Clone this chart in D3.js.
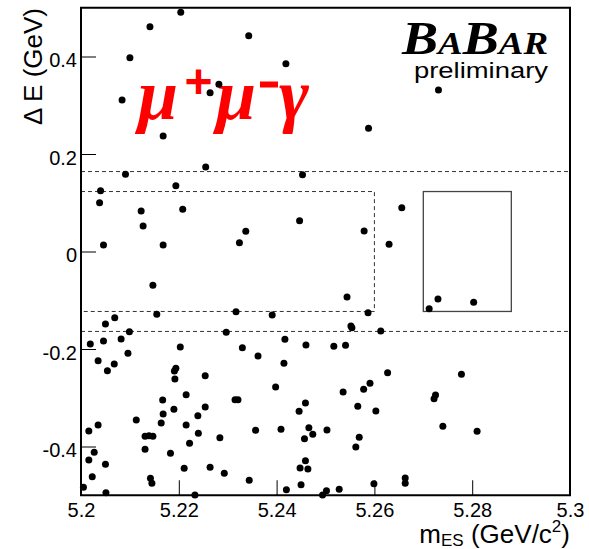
<!DOCTYPE html>
<html>
<head>
<meta charset="utf-8">
<script src="https://cdn.jsdelivr.net/npm/d3@7"></script>
<style>
body { margin: 0; background: #fff; }
</style>
</head>
<body>
<script>
// candidate events: beam-energy substituted mass (GeV/c^2) and Delta E (GeV)
var mES = [
  5.2204, 5.2141, 5.2343, 5.2100, 5.2419, 5.2282, 5.2264, 5.2084, 5.2168, 5.2255,
  5.2091, 5.2453, 5.2040, 5.2194, 5.2038, 5.2123, 5.2208, 5.2127, 5.2447, 5.2337,
  5.2046, 5.2168, 5.2324, 5.2731, 5.2588, 5.2656, 5.2579, 5.2630, 5.2147, 5.2155,
  5.2317, 5.2391, 5.2069, 5.2050, 5.2099, 5.2297, 5.2019, 5.2046, 5.2082, 5.2203,
  5.2330, 5.2417, 5.2460, 5.2035, 5.2068, 5.2054, 5.2096, 5.2362, 5.2415, 5.2194,
  5.2191, 5.2254, 5.2192, 5.2398, 5.2215, 5.2167, 5.2315, 5.2321, 5.2459, 5.2168,
  5.2190, 5.2254, 5.2446, 5.2239, 5.2113, 5.2164, 5.2215, 5.2035, 5.2016, 5.2357,
  5.2409, 5.2466, 5.2503, 5.2474, 5.2240, 5.2131, 5.2139, 5.2147, 5.2457, 5.2284,
  5.2222, 5.2131, 5.2027, 5.2016, 5.2183, 5.2050, 5.2459, 5.2211, 5.2264, 5.2448,
  5.2464, 5.2293, 5.2023, 5.2142, 5.2145, 5.2344, 5.2450, 5.2005, 5.2051, 5.2233,
  5.2420, 5.2494, 5.2502, 5.2544, 5.2587, 5.2712, 5.2730, 5.2803, 5.2552, 5.2554,
  5.2613, 5.2517, 5.2541, 5.2627, 5.2778, 5.2591, 5.2578, 5.2536, 5.2725, 5.2722,
  5.2566, 5.2603, 5.2740, 5.2810, 5.2569, 5.2562, 5.2599, 5.2663, 5.2663, 5.2528
];
var deltaE = [
   0.4907,  0.4611,  0.4427,  0.3975,  0.3852,  0.3430,  0.3257,  0.3108,  0.2369,  0.1733,
   0.1584,  0.1575,  0.1247,  0.1350,  0.1001,  0.0831,  0.0866,  0.0523,  0.0632,  0.0414,
   0.0133,  0.0133,  0.0181,  0.3313,  0.2527,  0.0898,  0.0421,  0.0148, -0.0693, -0.1288,
  -0.1235, -0.1303, -0.1358, -0.1487, -0.1645, -0.1657, -0.1897, -0.1836, -0.1795, -0.1959,
  -0.1973, -0.1801, -0.1918, -0.2240, -0.2308, -0.2445, -0.2088, -0.2144, -0.2293, -0.2396,
  -0.2451, -0.2548, -0.2615, -0.2779, -0.2937, -0.3046, -0.3040, -0.3040, -0.3108, -0.3333,
  -0.3237, -0.3190, -0.3278, -0.3368, -0.3456, -0.3518, -0.3559, -0.3559, -0.3682, -0.3668,
  -0.3647, -0.3614, -0.3662, -0.3750, -0.3729, -0.3791, -0.3778, -0.3791, -0.3840, -0.3819,
  -0.3934, -0.4057, -0.4119, -0.4277, -0.4139, -0.4365, -0.4291, -0.4447, -0.4427, -0.4441,
  -0.4462, -0.4550, -0.4619, -0.4652, -0.4755, -0.4693, -0.4784, -0.4837, -0.4948, -0.4995,
  -0.4886, -0.4995, -0.4907, -0.0933, -0.1255, -0.1173, -0.0974, -0.1042, -0.1528, -0.1563,
  -0.1631, -0.1945, -0.1924, -0.2486, -0.2519, -0.2704, -0.2827, -0.2882, -0.2944, -0.3019,
  -0.3175, -0.3272, -0.3586, -0.3688, -0.3811, -0.4010, -0.4763, -0.4646, -0.4755, -0.4878
];

var xTicks = [5.2, 5.22, 5.24, 5.26, 5.28, 5.3];
var xTickLabels = ["5.2", "5.22", "5.24", "5.26", "5.28", "5.3"];
var yTicks = [-0.4, -0.2, 0, 0.2, 0.4];
var yTickLabels = ["-0.4", "-0.2", "0", "0.2", "0.4"];

// region bounds
var bandDE = [-0.164, 0.164];               // Delta E band (dashed, full width)
var fitBox = [5.2, 5.26, -0.123, 0.123];    // mES lo, mES hi, dE lo, dE hi (dashed)
var signalBox = [5.27, 5.288, -0.123, 0.123];

var width = 589, height = 549;
var margin = {left: 81, right: 19, top: 7.75, bottom: 53.75};

var svg = d3.select("body").append("svg")
    .attr("width", width)
    .attr("height", height)
    .style("font-family", "'Liberation Sans', Arial, sans-serif");

var x = d3.scaleLinear().domain([5.2, 5.3]).range([margin.left, width - margin.right]);
var y = d3.scaleLinear().domain([-0.5, 0.5]).range([height - margin.bottom, margin.top]);

// dashed delta E band
svg.selectAll("line.band")
    .data(bandDE)
    .enter().append("line")
    .attr("class", "band")
    .attr("x1", x(5.2)).attr("x2", x(5.3))
    .attr("y1", function(d){ return y(d); })
    .attr("y2", function(d){ return y(d); })
    .attr("stroke", "#333")
    .attr("stroke-width", 1)
    .attr("stroke-dasharray", "4,3");

// dashed fit box (open on the left, that side is the axis)
var fb = d3.path();
fb.moveTo(x(fitBox[0]), y(fitBox[3]));
fb.lineTo(x(fitBox[1]), y(fitBox[3]));
fb.lineTo(x(fitBox[1]), y(fitBox[2]));
fb.lineTo(x(fitBox[0]), y(fitBox[2]));
svg.append("path")
    .attr("d", fb.toString())
    .attr("fill", "none")
    .attr("stroke", "#333")
    .attr("stroke-width", 1)
    .attr("stroke-dasharray", "4,3");

// signal box
svg.append("rect")
    .attr("x", x(signalBox[0]))
    .attr("y", y(signalBox[3]))
    .attr("width", x(signalBox[1]) - x(signalBox[0]))
    .attr("height", y(signalBox[2]) - y(signalBox[3]))
    .attr("fill", "none")
    .attr("stroke", "#444")
    .attr("stroke-width", 1.3);

// mu+ mu- gamma label
var red = "#ff0000";
var lab = svg.append("g").attr("fill", red);
function greek(px, ch){
    lab.append("text").attr("x", px).attr("y", 119)
        .style("font-family", "'Liberation Serif', serif")
        .style("font-style", "italic")
        .style("font-weight", "bold")
        .style("font-size", "72px")
        .text(ch);
}
greek(138, "\u03bc");
greek(216, "\u03bc");
greek(279, "\u03b3");
lab.append("text").attr("x", 198.5).attr("y", 97.5).attr("text-anchor", "middle")
    .style("font-weight", "bold").style("font-size", "48px").text("+");
lab.append("rect").attr("x", 260).attr("y", 81.5).attr("width", 18).attr("height", 6);

// BaBar logo
var logo = svg.append("text")
    .attr("x", 548).attr("y", 54)
    .attr("text-anchor", "end")
    .attr("textLength", 146)
    .attr("lengthAdjust", "spacingAndGlyphs")
    .style("font-family", "'Liberation Serif', serif")
    .style("font-style", "italic")
    .style("font-weight", "bold");
logo.append("tspan").style("font-size", "47px").text("B");
logo.append("tspan").style("font-size", "32px").text("A");
logo.append("tspan").style("font-size", "47px").text("B");
logo.append("tspan").style("font-size", "32px").text("AR");

svg.append("text")
    .attr("x", 548).attr("y", 78)
    .attr("text-anchor", "end")
    .attr("textLength", 134)
    .attr("lengthAdjust", "spacingAndGlyphs")
    .style("font-size", "22px")
    .text("preliminary");

// events
svg.selectAll("circle.evt")
    .data(mES)
    .enter().append("circle")
    .attr("class", "evt")
    .attr("cx", function(d){ return x(d); })
    .attr("cy", function(d, i){ return y(deltaE[i]); })
    .attr("r", 3.5)
    .attr("fill", "#000");

// axes
var xAxis = d3.axisBottom(x)
    .tickValues(xTicks)
    .tickSize(-15)
    .tickPadding(8)
    .tickFormat(function(d, i){ return xTickLabels[i]; });
var gx = svg.append("g")
    .attr("transform", "translate(0," + (height - margin.bottom) + ")")
    .call(xAxis);

var yAxis = d3.axisLeft(y)
    .tickValues(yTicks)
    .tickSize(-15)
    .tickPadding(4)
    .tickFormat(function(d, i){ return yTickLabels[i]; });
var gy = svg.append("g")
    .attr("transform", "translate(" + margin.left + ",0)")
    .call(yAxis);

[gx, gy].forEach(function(g){
    g.select(".domain").remove();
    g.selectAll(".tick line").attr("stroke", "#000");
    g.selectAll(".tick text")
        .attr("fill", "#000")
        .style("font-family", "'Liberation Sans', Arial, sans-serif")
        .style("font-size", "20px");
});
gy.selectAll(".tick text").attr("dy", "0.5em");

// frame
svg.append("rect")
    .attr("x", x(5.2)).attr("y", y(0.5))
    .attr("width", x(5.3) - x(5.2))
    .attr("height", y(-0.5) - y(0.5))
    .attr("fill", "none")
    .attr("stroke", "#000")
    .attr("stroke-width", 2);

// axis titles
svg.append("text")
    .attr("transform", "translate(42,8) rotate(-90)")
    .attr("text-anchor", "end")
    .style("font-size", "26px")
    .text("\u0394 E (GeV)");

var xt = svg.append("text")
    .attr("x", 570).attr("y", 543)
    .attr("text-anchor", "end")
    .style("font-size", "26px");
xt.append("tspan").text("m");
xt.append("tspan").attr("dy", 3).style("font-size", "17px").text("ES");
xt.append("tspan").attr("dy", -3).text(" (GeV/c");
xt.append("tspan").attr("dy", -11).style("font-size", "17px").text("2");
xt.append("tspan").attr("dy", 11).text(")");
</script>
</body>
</html>
